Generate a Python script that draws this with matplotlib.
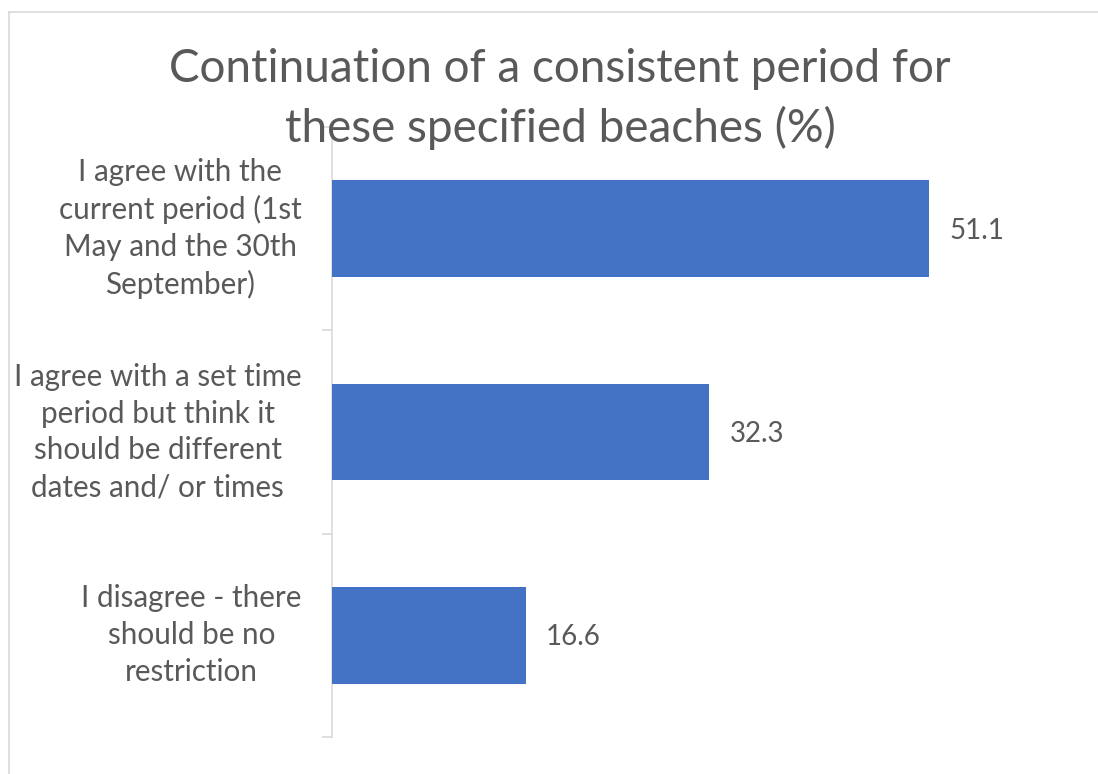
import matplotlib
matplotlib.use("Agg")
import matplotlib.pyplot as plt
from matplotlib.lines import Line2D

categories = [
    "I agree with the\ncurrent period (1st\nMay and the 30th\nSeptember)",
    "I agree with a set time\nperiod but think it\nshould be different\ndates and/ or times",
    "I disagree - there\nshould be no\nrestriction",
]
values = [51.1, 32.3, 16.6]
title = "Continuation of a consistent period for\nthese specified beaches (%)"

TEXT = "#595959"
BAR = "#4472C4"
GRID = "#D9D9D9"

plt.rcParams["font.family"] = ["Lato", "DejaVu Sans"]

W, H = 1098, 774
fig = plt.figure(figsize=(W / 100, H / 100), dpi=100)

# border of chart area (top and left visible)
fig.add_artist(Line2D([9 / W, 9 / W], [0, 1 - 12 / H], transform=fig.transFigure, color=GRID, lw=1.2))
fig.add_artist(Line2D([9 / W, 1], [1 - 12 / H, 1 - 12 / H], transform=fig.transFigure, color=GRID, lw=1.2))

left = 332 / W
top = 127
bottom = 737
ppu = 11.68
xmax = 60
ax = fig.add_axes([left, (H - bottom) / H, xmax * ppu / W, (bottom - top) / H])

ypos = list(range(len(categories)))
ax.barh(ypos, values, height=0.475, color=BAR, zorder=3)
ax.set_xlim(0, xmax)
ax.set_ylim(len(categories) - 0.5, -0.5)

for y, v in zip(ypos, values):
    ax.annotate(f"{v:.1f}", xy=(v, y), xytext=(14.5, -1.5), textcoords="offset points",
                ha="left", va="center", fontsize=20, color=TEXT)

ax.set_yticks([i - 0.5 for i in range(len(categories) + 1)])
ax.set_yticklabels([])
ax.set_yticks(ypos, minor=True)
ax.set_yticklabels(categories, minor=True, fontsize=21.3, color=TEXT, linespacing=1.385,
                   multialignment="center", va="center")
ax.tick_params(axis="y", which="major", length=7, color=GRID, width=1.2)
ax.tick_params(axis="y", which="minor", length=0, pad=22)
ax.set_xticks([])
for s in ["top", "right", "bottom"]:
    ax.spines[s].set_visible(False)
ax.spines["left"].set_color(GRID)
ax.spines["left"].set_linewidth(1.2)

fig.text(560 / W, 1 - 99 / H, title, ha="center", va="center", fontsize=33, color=TEXT,
         linespacing=1.42)

fig.savefig("out.png", dpi=100)
